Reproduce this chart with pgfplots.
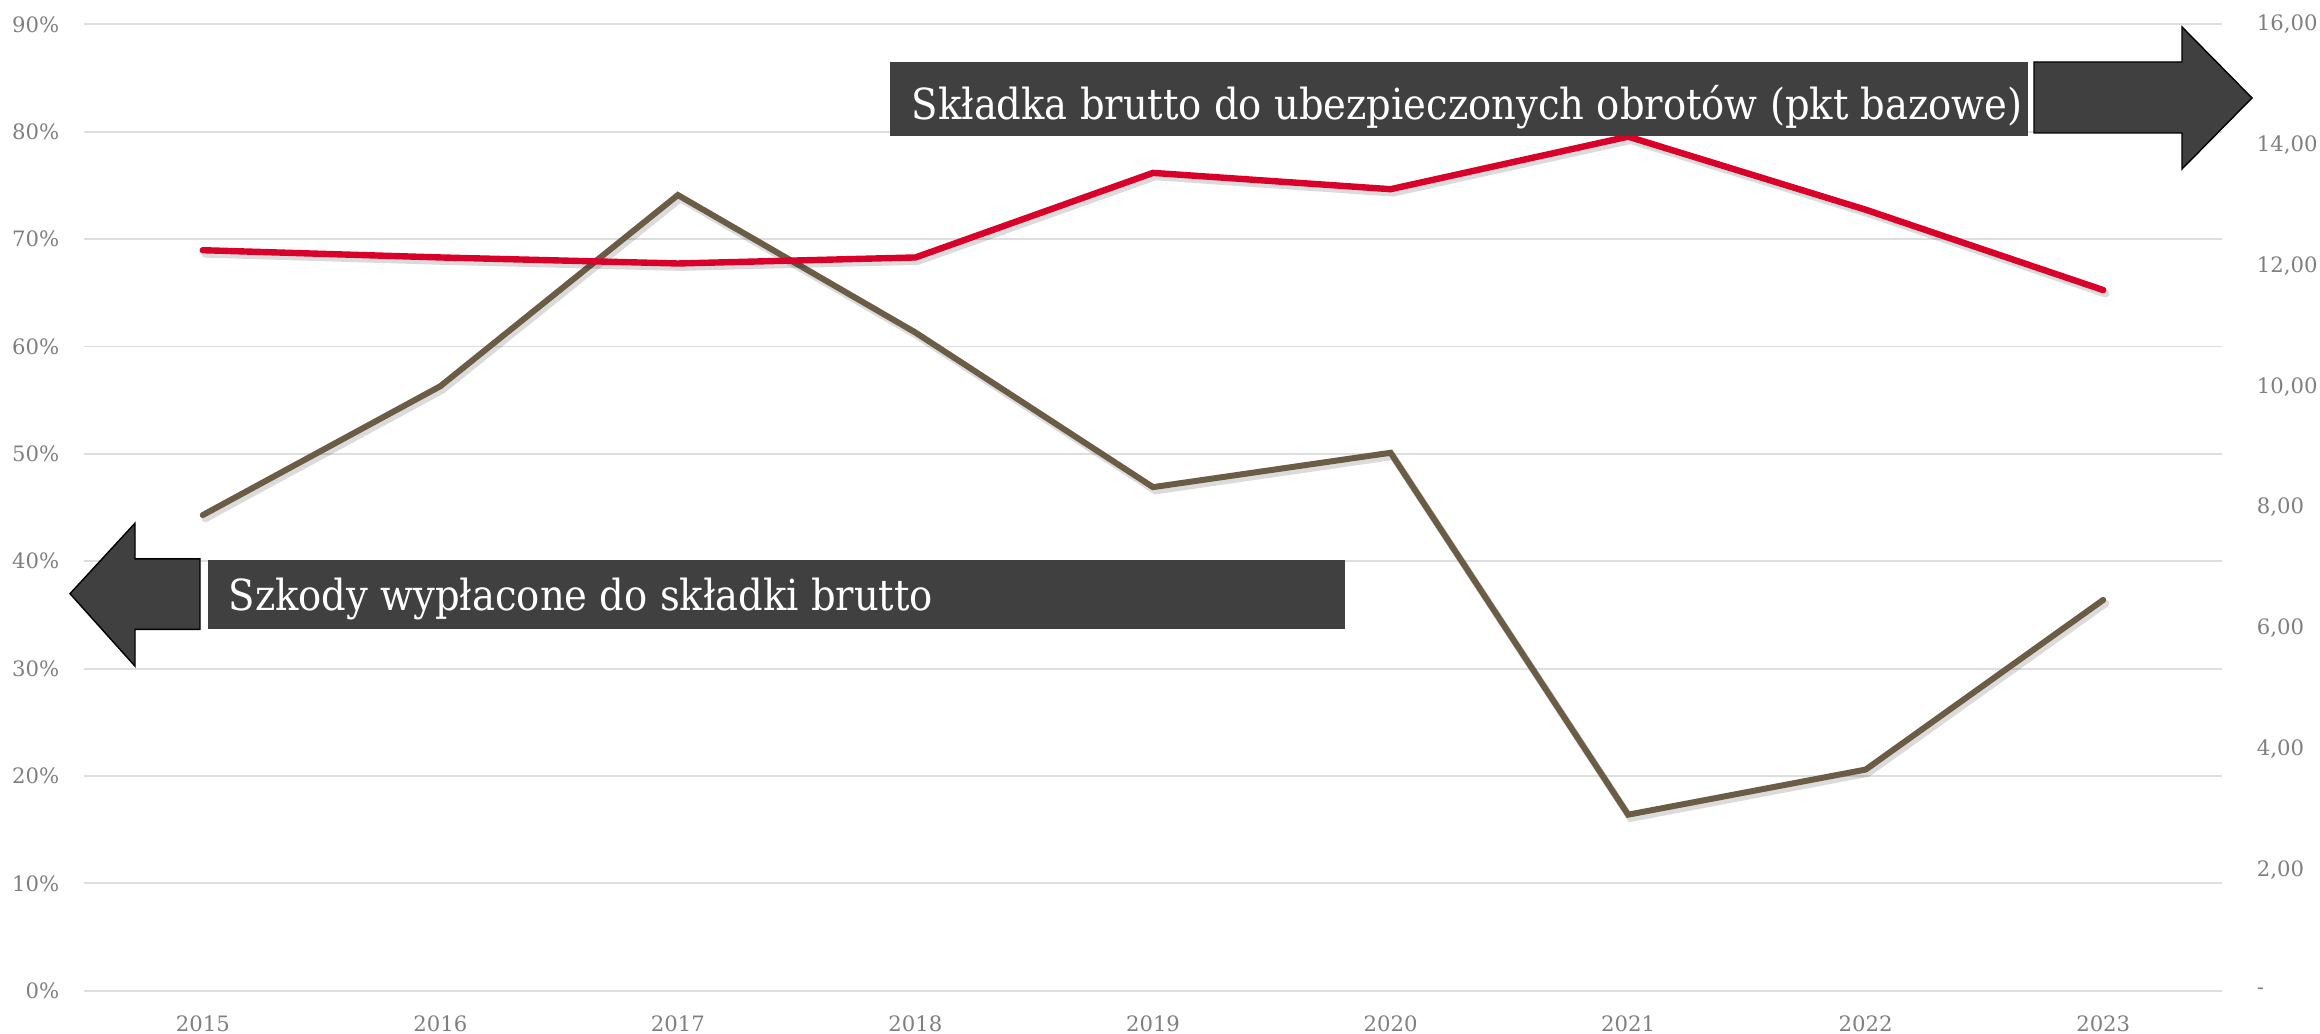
\documentclass[border=0pt]{standalone}
\usepackage{pgfplots}
\pgfplotsset{compat=1.18}
\usepackage{fontspec}
\setmainfont{DejaVu Serif Condensed}
\newfontfamily\tickfont{DejaVu Serif}
\definecolor{gridgray}{HTML}{DEDEDE}
\definecolor{ticklab}{HTML}{7F7F7F}
\definecolor{redline}{HTML}{D90029}
\definecolor{brownline}{HTML}{6B5D45}
\definecolor{boxgray}{HTML}{404040}
\pgfplotstableread{
x brown red
0 44.3 12.26
1 56.3 12.14
2 74.1 12.04
3 61.3 12.14
4 46.9 13.54
5 50.1 13.27
6 16.4 14.14
7 20.6 12.93
8 36.4 11.60
}\datatab
\begin{document}
\begin{tikzpicture}
\pgfplotsset{
  common/.style={
    width=534.5pt, height=241.625pt, scale only axis,
    at={(0,0)}, anchor=south west,
    xmin=-0.5, xmax=8.5,
    axis line style={draw=none},
    tick style={draw=none},
    tick label style={font=\tickfont\fontsize{5.3}{6}\selectfont, text=ticklab, inner sep=0pt},
  }
}
\begin{axis}[common,
  ymin=0, ymax=90,
  ytick={0,10,...,90},
  yticklabels={0\%,10\%,20\%,30\%,40\%,50\%,60\%,70\%,80\%,90\%},
  yticklabel style={anchor=east, xshift=-6pt},
  ymajorgrids, grid style={draw=gridgray, line width=0.45pt},
  xtick={0,...,8},
  xticklabels={2015,2016,2017,2018,2019,2020,2021,2022,2023},
  xticklabel style={anchor=north, yshift=-6.1pt},
]
\addplot[black, opacity=0.14, line width=1.8pt, line cap=round, shift={(0.6pt,-0.9pt)}] table[x=x, y=brown] {\datatab};
\addplot[brownline, line width=1.5pt, line cap=round, line join=miter] table[x=x, y=brown] {\datatab};
\end{axis}
\begin{axis}[common,
  ymin=0, ymax=16,
  ytick={0,2,...,16},
  yticklabels={-,{2,00},{4,00},{6,00},{8,00},{10,00},{12,00},{14,00},{16,00}},
  yticklabel style={anchor=west, xshift=8.5pt},
  axis y line*=right,
  axis x line=none,
  xtick=\empty,
]
\addplot[black, opacity=0.14, line width=1.9pt, line cap=round, shift={(0.6pt,-0.9pt)}] table[x=x, y=red] {\datatab};
\addplot[redline, line width=1.6pt, line cap=round, line join=miter] table[x=x, y=red] {\datatab};
\end{axis}
\begin{scope}[shift={(-21pt,247.7pt)}, x={(0.25pt,0)}, y={(0,-0.25pt)}]
  % right label box and arrow
  \fill[boxgray] (890,62) rectangle (2028,136);
  \node[anchor=base west, inner sep=0pt, text=white, font=\fontsize{10.7}{12}\selectfont] at (911,119.3) {Składka brutto do ubezpieczonych obrotów (pkt bazowe)};
  \filldraw[fill=boxgray, draw=black, line width=0.35pt] (2034,62) -- (2182,62) -- (2182,27) -- (2252,98) -- (2182,169) -- (2182,133) -- (2034,133) -- cycle;
  % left label box and arrow
  \fill[boxgray] (208,560) rectangle (1345,628.7);
  \node[anchor=base west, inner sep=0pt, text=white, font=\fontsize{10.7}{12}\selectfont] at (228,610.7) {Szkody wypłacone do składki brutto};
  \filldraw[fill=boxgray, draw=black, line width=0.35pt] (200,558.9) -- (135,558.9) -- (135,523.2) -- (70,593.7) -- (135,666.2) -- (135,629.4) -- (200,629.4) -- cycle;
\end{scope}
\pgfresetboundingbox
\path[use as bounding box] (-21pt,-10.8pt) rectangle ++(580pt,258.5pt);
\end{tikzpicture}
\end{document}
